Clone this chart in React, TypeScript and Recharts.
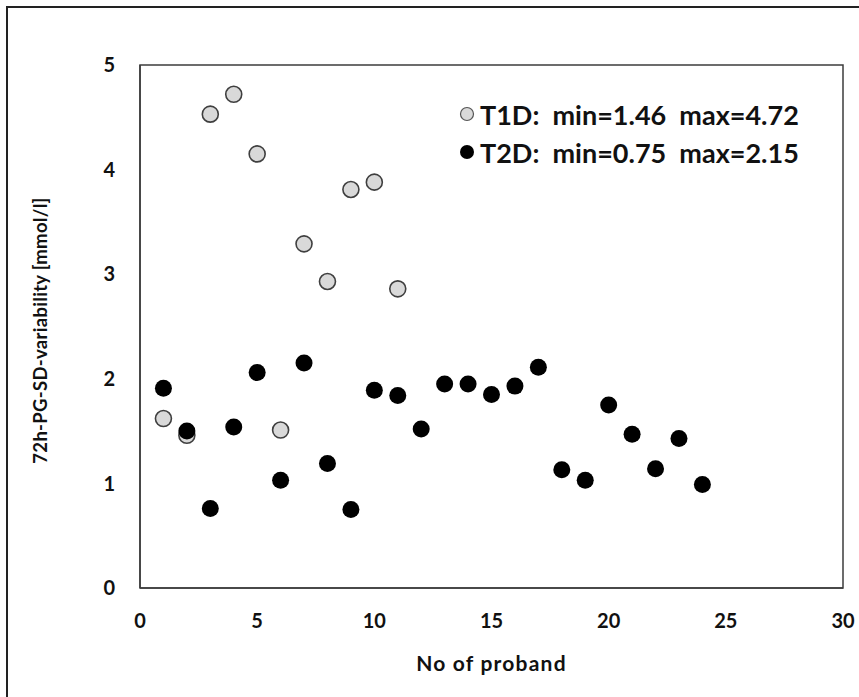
import React from "react";
import {
  ScatterChart,
  Scatter,
  XAxis,
  YAxis,
  ReferenceArea,
  Legend,
} from "recharts";

const xTicks = [0, 5, 10, 15, 20, 25, 30];
const yTicks = [0, 1, 2, 3, 4, 5];

const t1dProband = [1, 2, 3, 4, 5, 6, 7, 8, 9, 10, 11];
const t1dValues = [1.62, 1.46, 4.53, 4.72, 4.15, 1.51, 3.29, 2.93, 3.81, 3.88, 2.86];

const t2dProband = [
  1, 2, 3, 4, 5, 6, 7, 8, 9, 10, 11, 12, 13, 14, 15, 16, 17, 18, 19, 20, 21, 22, 23, 24,
];
const t2dValues = [
  1.91, 1.5, 0.76, 1.54, 2.06, 1.03, 2.15, 1.19, 0.75, 1.89, 1.84, 1.52, 1.95, 1.95, 1.85,
  1.93, 2.11, 1.13, 1.03, 1.75, 1.47, 1.14, 1.43, 0.99,
];

const seriesNames = ["T1D:  min=1.46  max=4.72", "T2D:  min=0.75  max=2.15"];
const xLabel = "No of proband";
const yLabel = "72h-PG-SD-variability [mmol/l]";

const t1dData = t1dProband.map((x, i) => ({ x, y: t1dValues[i] }));
const t2dData = t2dProband.map((x, i) => ({ x, y: t2dValues[i] }));

const FONT = "Lato, 'Open Sans', sans-serif";
const AXIS = "#3c3c3c";

const GrayDot = (p: any) => (
  <circle cx={p.cx} cy={p.cy} r={8} fill="#d9d9d9" stroke="#3f3f3f" strokeWidth={1.6} />
);
const BlackDot = (p: any) => <circle cx={p.cx} cy={p.cy} r={8.5} fill="#000" />;

const LegendContent = (props: any) => {
  const items = props.payload || [];
  return (
    <div style={{ fontFamily: FONT, fontWeight: 700, fontSize: 27, color: "#111" }}>
      {items.map((it: any, i: number) => (
        <div key={i} style={{ display: "flex", alignItems: "center", height: 38 }}>
          <svg width={20} height={20} style={{ marginRight: 3 }}>
            {i === 0 ? (
              <circle cx={10} cy={10} r={6.5} fill="#d9d9d9" stroke="#555" strokeWidth={1.2} />
            ) : (
              <circle cx={10} cy={10} r={7} fill="#000" />
            )}
          </svg>
          <span style={{ whiteSpace: "pre" }}>{it.value}</span>
        </div>
      ))}
    </div>
  );
};

export default function App() {
  return (
    <div
      style={{
        position: "absolute",
        left: 0,
        top: 0,
        width: 859,
        height: 697,
        background: "#fff",
        overflow: "hidden",
      }}
    >
      <div
        style={{
          position: "absolute",
          left: 6,
          top: 6,
          width: 900,
          height: 750,
          borderLeft: "2px solid #222",
          borderTop: "2px solid #222",
        }}
      />
      <div style={{ position: "absolute", left: 0, top: 0 }}>
        <ScatterChart
          width={859}
          height={697}
          margin={{ top: 65, right: 16, bottom: 0, left: 0 }}
        >
          <XAxis
            type="number"
            dataKey="x"
            domain={[0, 30]}
            ticks={xTicks}
            height={109}
            tickLine={false}
            tickSize={0}
            tickMargin={26}
            axisLine={{ stroke: AXIS, strokeWidth: 1.5 }}
            tick={{ fontFamily: FONT, fontWeight: 700, fontSize: 20, fill: "#111" }}
            label={(lp: any) => {
              const vb = lp.viewBox;
              return (
                <text
                  x={vb.x + vb.width / 2}
                  y={vb.y + 83}
                  textAnchor="middle"
                  fontFamily={FONT}
                  fontWeight={700}
                  fontSize={21}
                  letterSpacing={1.2}
                  fill="#111"
                >
                  {xLabel}
                </text>
              );
            }}
          />
          <YAxis
            type="number"
            dataKey="y"
            domain={[0, 5]}
            ticks={yTicks}
            width={140}
            tickLine={false}
            tickSize={0}
            tickMargin={25}
            axisLine={{ stroke: AXIS, strokeWidth: 1.5 }}
            tick={{ fontFamily: FONT, fontWeight: 700, fontSize: 20, fill: "#111" }}
            label={(lp: any) => {
              const vb = lp.viewBox;
              const cx = vb.x + 47;
              const cy = vb.y + vb.height / 2 + 4;
              return (
                <text
                  x={cx}
                  y={cy}
                  textAnchor="middle"
                  transform={`rotate(-90 ${cx} ${cy})`}
                  fontFamily={FONT}
                  fontWeight={700}
                  fontSize={18.5}
                  letterSpacing={0.3}
                  fill="#111"
                >
                  {yLabel}
                </text>
              );
            }}
          />
          <ReferenceArea
            x1={0}
            x2={30}
            y1={0}
            y2={5}
            fill="none"
            stroke={AXIS}
            strokeWidth={1.5}
            ifOverflow="visible"
          />
          <Legend
            layout="vertical"
            align="center"
            verticalAlign="middle"
            content={<LegendContent />}
            wrapperStyle={{ left: 457, top: 95, width: 390 }}
          />
          <Scatter
            name={seriesNames[0]}
            data={t1dData}
            shape={GrayDot}
            fill="#d9d9d9"
            isAnimationActive={false}
          />
          <Scatter
            name={seriesNames[1]}
            data={t2dData}
            shape={BlackDot}
            fill="#000"
            isAnimationActive={false}
          />
        </ScatterChart>
      </div>
    </div>
  );
}
